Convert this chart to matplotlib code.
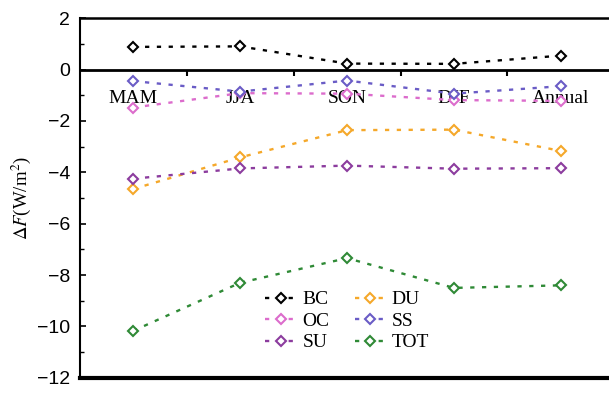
import matplotlib
matplotlib.use("Agg")
import matplotlib.pyplot as plt
from matplotlib.ticker import MultipleLocator, FixedLocator

plt.rcParams["mathtext.fontset"] = "stix"

categories = ["MAM", "JJA", "SON", "DJF", "Annual"]
BC = [0.88, 0.90, 0.23, 0.22, 0.54]
OC = [-1.48, -0.92, -0.94, -1.19, -1.22]
SS = [-0.45, -0.86, -0.43, -0.94, -0.65]
SU = [-4.25, -3.85, -3.74, -3.86, -3.84]
DU = [-4.65, -3.42, -2.36, -2.34, -3.17]
TOT = [-10.17, -8.30, -7.34, -8.50, -8.40]

series = [("BC", BC, "#000000"), ("DU", DU, "#f5a82a"),
          ("OC", OC, "#dc6ccc"), ("SS", SS, "#6a5cc6"),
          ("SU", SU, "#8c3c9e"), ("TOT", TOT, "#2f8a36")]

fig = plt.figure(figsize=(6.09, 3.94), dpi=100)
ax = fig.add_axes([0.131, 0.041, 0.869, 0.913])

x = list(range(len(categories)))
for name, vals, col in series:
    ax.plot(x, vals, linestyle=(0, (1.8, 3.2)), lw=1.7, color=col,
            marker="D", markersize=5, markerfacecolor="white",
            markeredgecolor=col, markeredgewidth=1.5, label=name)

ax.set_xlim(-0.5, 4.45)
ax.set_ylim(-12, 2)

ax.spines["right"].set_visible(False)
ax.spines["bottom"].set_position(("data", 0))
ax.spines["bottom"].set_linewidth(2.0)
ax.spines["top"].set_linewidth(1.8)
ax.spines["left"].set_linewidth(1.5)
ax.axhline(-12, color="black", lw=3.0, clip_on=False)

ax.xaxis.set_major_locator(FixedLocator(x))
ax.set_xticklabels(categories, family="Liberation Serif", fontsize=14)
ax.xaxis.set_minor_locator(FixedLocator([0.5, 1.5, 2.5, 3.5]))
ax.tick_params(axis="x", which="major", length=0, pad=15)
ax.tick_params(axis="x", which="minor", length=4, width=1.5, direction="out")

ax.yaxis.set_major_locator(MultipleLocator(2))
ax.yaxis.set_minor_locator(MultipleLocator(1))
ax.set_yticks(range(-12, 3, 2))
ax.set_yticklabels([f"\u2212{abs(v)}" if v < 0 else str(v) for v in range(-12, 3, 2)],
                   family="Liberation Sans", fontsize=14)
ax.tick_params(axis="y", which="major", length=4, width=1.2, direction="in", pad=7)
ax.tick_params(axis="y", which="minor", length=3, width=1.0, direction="in")

ax.set_ylabel(r"$\Delta F$(W/m$^2$)", family="Liberation Serif", fontsize=13.5, labelpad=3)

handles, labels = ax.get_legend_handles_labels()
order = ["BC", "OC", "SU", "DU", "SS", "TOT"]
hmap = dict(zip(labels, handles))
leg = ax.legend([hmap[k] for k in order], order, ncol=2, frameon=False,
                loc="upper left", bbox_to_anchor=(0.325, 0.28),
                prop={"family": "Liberation Serif", "size": 14},
                handlelength=1.6, handletextpad=0.3, columnspacing=1.3,
                labelspacing=0.2, borderpad=0.2)

fig.savefig("out.png", dpi=100)
